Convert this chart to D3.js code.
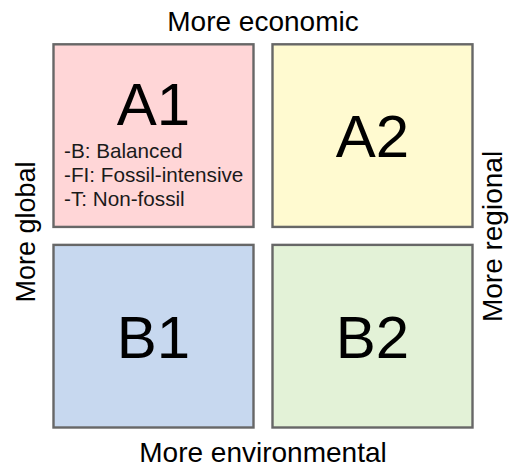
<!DOCTYPE html>
<html>
<head>
<meta charset="utf-8">
<script src="https://cdn.jsdelivr.net/npm/d3@7"></script>
<style>
  html, body { margin: 0; padding: 0; background: #fff; }
  svg { display: block; }
  text { font-family: "Liberation Sans", Arial, sans-serif; fill: #000; }
</style>
</head>
<body>
<svg id="chart" width="509" height="470"></svg>
<script>
// Data
const columns = ["global", "regional"];
const rows = ["economic", "environmental"];
const quadrantLabels = ["A1", "A2", "B1", "B2"];
const quadrantCols = ["global", "regional", "global", "regional"];
const quadrantRows = ["economic", "economic", "environmental", "environmental"];
const quadrantFills = ["#ffd6d7", "#fffad0", "#c7d8ef", "#e3f2d7"];
const a1Notes = ["-B: Balanced", "-FI: Fossil-intensive", "-T: Non-fossil"];
const axisLabels = { top: "More economic", bottom: "More environmental", left: "More global", right: "More regional" };

const svg = d3.select("#chart");

const x = d3.scaleBand().domain(columns).range([53.5, 472.5]).paddingInner(19 / 219);
const y = d3.scaleBand().domain(rows).range([44.3, 427.5]).paddingInner(18 / 201);

const quads = quadrantLabels.map((label, i) => ({
  label, col: quadrantCols[i], row: quadrantRows[i], fill: quadrantFills[i]
}));

const g = svg.selectAll("g.quad").data(quads).join("g").attr("class", "quad");

g.append("rect")
  .attr("x", d => x(d.col))
  .attr("y", d => y(d.row))
  .attr("width", x.bandwidth())
  .attr("height", y.bandwidth())
  .attr("fill", d => d.fill)
  .attr("stroke", "#676767")
  .attr("stroke-width", 2.4);

g.append("text")
  .attr("x", d => x(d.col) + x.bandwidth() / 2)
  .attr("y", d => y(d.row) + y.bandwidth() / 2 + (d.label === "A1" ? -11 : 21.5))
  .attr("text-anchor", "middle")
  .attr("font-size", 60)
  .text(d => d.label);

// A1 notes
const a1 = quads[0];
svg.selectAll("text.note").data(a1Notes).join("text")
  .attr("class", "note")
  .attr("x", x(a1.col) + 10.5)
  .attr("y", (d, i) => y(a1.row) + 113.5 + i * 24)
  .attr("font-size", 20.7)
  .style("fill", "#1a1a1a")
  .text(d => d);

// Axis labels
const cx = (x.range()[0] + x.range()[1]) / 2;
const cy = (y.range()[0] + y.range()[1]) / 2;
svg.append("text").attr("x", cx).attr("y", 31).attr("text-anchor", "middle").attr("font-size", 28).text(axisLabels.top);
svg.append("text").attr("x", cx).attr("y", 462).attr("text-anchor", "middle").attr("font-size", 28).text(axisLabels.bottom);
svg.append("text").attr("transform", `translate(35,${232}) rotate(-90)`).attr("text-anchor", "middle").attr("font-size", 27).text(axisLabels.left);
svg.append("text").attr("transform", `translate(502,${236.5}) rotate(-90)`).attr("text-anchor", "middle").attr("font-size", 28).text(axisLabels.right);
</script>
</body>
</html>
